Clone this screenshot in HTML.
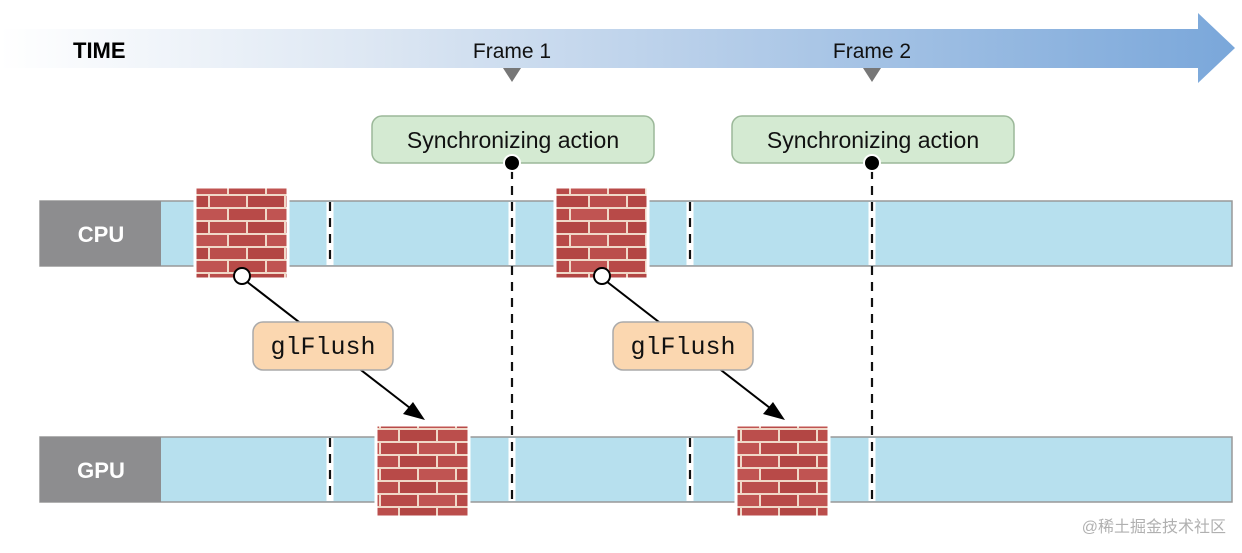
<!DOCTYPE html>
<html><head><meta charset="utf-8"><style>
html,body{margin:0;padding:0;background:#fff;}
svg{display:block;}
</style></head><body>
<svg width="1242" height="553" viewBox="0 0 1242 553" xmlns="http://www.w3.org/2000/svg">
<defs>
<linearGradient id="ag" x1="0" x2="1" y1="0" y2="0">
<stop offset="0" stop-color="#ffffff"/>
<stop offset="0.3" stop-color="#dde7f3"/>
<stop offset="1" stop-color="#7aa7da"/>
</linearGradient>
<pattern id="brick" width="76" height="26" patternUnits="userSpaceOnUse">
<rect width="76" height="26" fill="#f0d8c8"/>
<rect x="1" y="1" width="36" height="11" fill="#b84a48"/>
<rect x="39" y="1" width="36" height="11" fill="#c05452"/>
<rect x="-18" y="14" width="36" height="11" fill="#bb4e4c"/>
<rect x="20" y="14" width="36" height="11" fill="#b34644"/>
<rect x="58" y="14" width="36" height="11" fill="#bb4e4c"/>
</pattern>
</defs>
<polygon points="0,29 1198,29 1198,13 1235,48 1198,83 1198,68 0,68" fill="url(#ag)"/>
<text x="73" y="58" font-family="Liberation Sans, sans-serif" font-weight="bold" font-size="22" fill="#000">TIME</text>
<text x="512" y="58" text-anchor="middle" font-family="Liberation Sans, sans-serif" font-size="21" fill="#111">Frame 1</text>
<text x="872" y="58" text-anchor="middle" font-family="Liberation Sans, sans-serif" font-size="21" fill="#111">Frame 2</text>
<polygon points="503,68 521,68 512,82" fill="#777"/>
<polygon points="863,68 881,68 872,82" fill="#777"/>
<rect x="40" y="201" width="1192" height="65" fill="#b7e0ee" stroke="#999" stroke-width="1.5"/>
<rect x="40" y="201" width="121" height="65" fill="#8d8d8f"/>
<text x="101" y="242" text-anchor="middle" font-family="Liberation Sans, sans-serif" font-weight="bold" font-size="22" fill="#fff">CPU</text>
<rect x="40" y="437" width="1192" height="65" fill="#b7e0ee" stroke="#999" stroke-width="1.5"/>
<rect x="40" y="437" width="121" height="65" fill="#8d8d8f"/>
<text x="101" y="478" text-anchor="middle" font-family="Liberation Sans, sans-serif" font-weight="bold" font-size="22" fill="#fff">GPU</text>
<g stroke="#fff" stroke-width="7">
<line x1="330" y1="202" x2="330" y2="265"/><line x1="690" y1="202" x2="690" y2="265"/>
<line x1="330" y1="438" x2="330" y2="501"/><line x1="690" y1="438" x2="690" y2="501"/>
<line x1="512" y1="202" x2="512" y2="265"/><line x1="872" y1="202" x2="872" y2="265"/>
<line x1="512" y1="438" x2="512" y2="501"/><line x1="872" y1="438" x2="872" y2="501"/>
</g>
<g stroke="#111" stroke-width="2.2" stroke-dasharray="9,7">
<line x1="330" y1="202" x2="330" y2="266"/><line x1="690" y1="202" x2="690" y2="266"/>
<line x1="330" y1="438" x2="330" y2="502"/><line x1="690" y1="438" x2="690" y2="502"/>
<line x1="512" y1="170" x2="512" y2="502"/><line x1="872" y1="170" x2="872" y2="502"/>
</g>
<g stroke="#fff" stroke-width="3">
<rect x="195" y="187" width="93" height="92" fill="url(#brick)"/>
<rect x="555" y="187" width="93" height="92" fill="url(#brick)"/>
<rect x="376" y="425" width="93" height="92" fill="url(#brick)"/>
<rect x="736" y="425" width="93" height="92" fill="url(#brick)"/>
</g>
<rect x="372" y="116" width="282" height="47" rx="10" fill="#d4ead2" stroke="#9bb899" stroke-width="1.5"/>
<text x="513" y="148" text-anchor="middle" font-family="Liberation Sans, sans-serif" font-size="23" fill="#111">Synchronizing action</text>
<rect x="732" y="116" width="282" height="47" rx="10" fill="#d4ead2" stroke="#9bb899" stroke-width="1.5"/>
<text x="873" y="148" text-anchor="middle" font-family="Liberation Sans, sans-serif" font-size="23" fill="#111">Synchronizing action</text>
<circle cx="512" cy="163" r="8" fill="#000" stroke="#fff" stroke-width="2"/>
<circle cx="872" cy="163" r="8" fill="#000" stroke="#fff" stroke-width="2"/>
<g stroke="#000" stroke-width="2">
<line x1="246" y1="281" x2="410" y2="408"/>
<line x1="606" y1="281" x2="770" y2="408"/>
</g>
<polygon points="425,420 403,414 413,402" fill="#000"/>
<polygon points="785,420 763,414 773,402" fill="#000"/>
<circle cx="242" cy="276" r="8" fill="#fff" stroke="#000" stroke-width="2"/>
<circle cx="602" cy="276" r="8" fill="#fff" stroke="#000" stroke-width="2"/>
<rect x="253" y="322" width="140" height="48" rx="10" fill="#fbd7b0" stroke="#aaa" stroke-width="1.5"/>
<text x="323" y="354" text-anchor="middle" font-family="Liberation Mono, monospace" font-size="25" fill="#111">glFlush</text>
<rect x="613" y="322" width="140" height="48" rx="10" fill="#fbd7b0" stroke="#aaa" stroke-width="1.5"/>
<text x="683" y="354" text-anchor="middle" font-family="Liberation Mono, monospace" font-size="25" fill="#111">glFlush</text>
<text x="1226" y="532" text-anchor="end" font-family="Liberation Sans, 'Noto Sans CJK SC', sans-serif" font-size="16" fill="#b0b0b0">@稀土掘金技术社区</text>
</svg>
</body></html>
